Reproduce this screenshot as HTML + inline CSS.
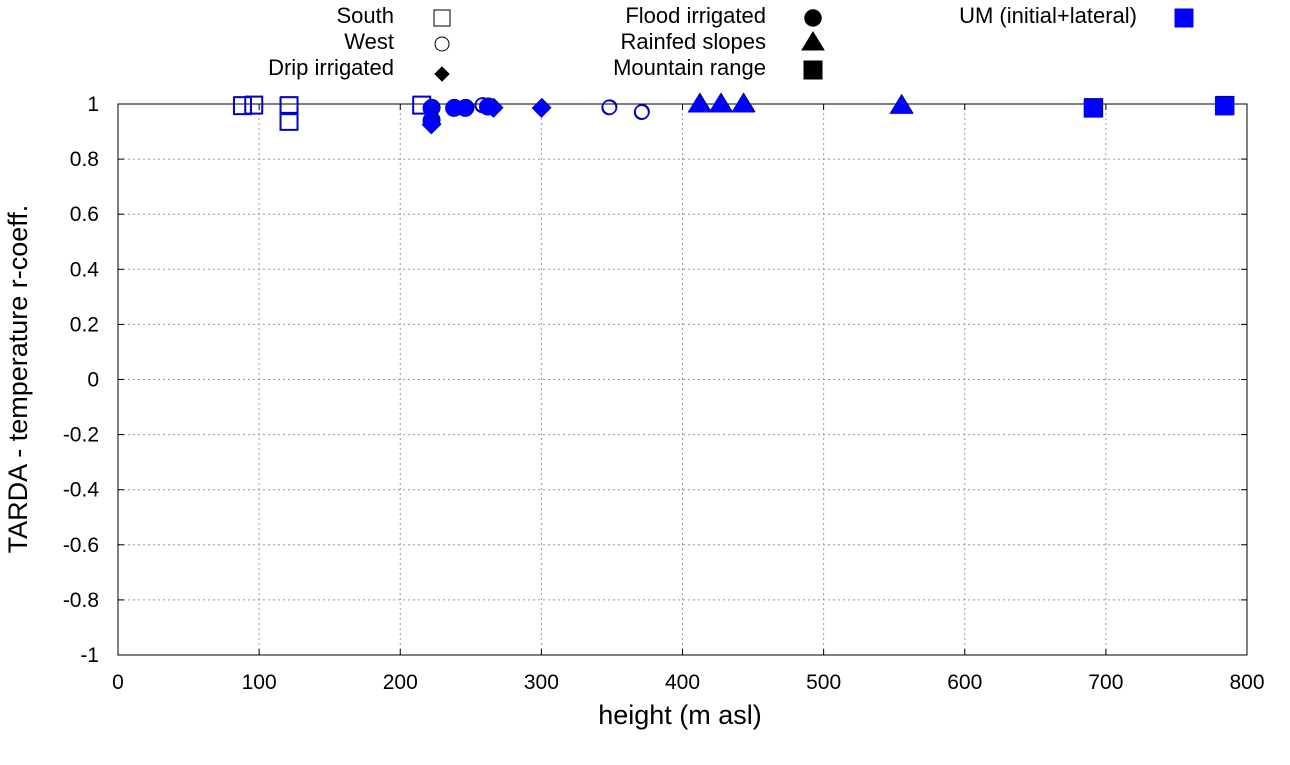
<!DOCTYPE html>
<html><head><meta charset="utf-8"><style>
body{margin:0;background:#fff;font-family:"Liberation Sans",sans-serif;}
svg text{font-family:"Liberation Sans",sans-serif;}
</style></head><body>
<svg id="c" width="1290" height="760" xmlns="http://www.w3.org/2000/svg"></svg>
<script>
const xTicks=[0,100,200,300,400,500,600,700,800];
const yTicks=[-1,-0.8,-0.6,-0.4,-0.2,0,0.2,0.4,0.6,0.8,1];
const yTickLabels=["-1","-0.8","-0.6","-0.4","-0.2","0","0.2","0.4","0.6","0.8","1"];
const southH=[88,96,121,121,215];
const southR=[0.993,0.995,0.993,0.936,0.995];
const westH=[258,348,371];
const westR=[0.995,0.987,0.97];
const dripH=[222,266,300];
const dripR=[0.925,0.985,0.985];
const floodH=[222,222,238,246,262];
const floodR=[0.985,0.94,0.985,0.985,0.99];
const rainH=[412,427,443,555];
const rainR=[1.0,1.0,1.0,0.995];
const mountH=[691,784];
const mountR=[0.985,0.993];

const X0=118,X1=1247,Y0=655,Y1=104;
const sx=v=>X0+(v-0)/(800-0)*(X1-X0);
const sy=v=>Y0-(v+1)/2*(Y0-Y1);
const svg=document.getElementById('c');
const NS='http://www.w3.org/2000/svg';
function mk(t,a,p){const e=document.createElementNS(NS,t);for(const k in a)e.setAttribute(k,a[k]);(p||svg).appendChild(e);return e;}

const grid=mk('g',{});


xTicks.forEach((t,i)=>{
  const x=sx(t);
  if(i>0&&i<xTicks.length-1){mk('line',{x1:x,x2:x,y1:Y0,y2:Y1,stroke:'#999','stroke-dasharray':'2,3','stroke-width':1},grid);}
  mk('line',{x1:x,x2:x,y1:Y0,y2:Y0-6,stroke:'#000'},grid);
  mk('line',{x1:x,x2:x,y1:Y1,y2:Y1+6,stroke:'#000'},grid);
  const tx=mk('text',{x:x,y:689,'text-anchor':'middle','font-size':21},grid);tx.textContent=t;
  
  
});
yTicks.forEach((t,i)=>{
  const y=sy(t);
  if(i>0&&i<yTicks.length-1)mk('line',{x1:X0,x2:X1,y1:y,y2:y,stroke:'#999','stroke-dasharray':'2,3','stroke-width':1},grid);
  mk('line',{x1:X0,x2:X0+6,y1:y,y2:y,stroke:'#000'},grid);
  mk('line',{x1:X1,x2:X1-6,y1:y,y2:y,stroke:'#000'},grid);
  const tx=mk('text',{x:99,y:y+7,'text-anchor':'end','font-size':21},grid);tx.textContent=yTickLabels[i];
  
  
});
const fr=mk('rect',{x:X0,y:Y1,width:X1-X0,height:Y0-Y1,fill:'none',stroke:'#000','stroke-width':1});



const xt=mk('text',{x:680,y:724,'text-anchor':'middle','font-size':27});xt.textContent='height (m asl)';


const yt=mk('text',{x:0,y:0,'text-anchor':'middle','font-size':27,transform:'translate(27,379) rotate(-90)'});yt.textContent='TARDA - temperature r-coeff.';



function shape(type,x,y,col,fill,p){
  if(type==='sq'){const s=fill?18:17;return mk('rect',{x:x-s/2,y:y-s/2,width:s,height:s,fill:fill?col:'none',stroke:col,'stroke-width':fill?1:1.5},p);}
  if(type==='ci')return mk('circle',{cx:x,cy:y,r:fill?8:7,fill:fill?col:'none',stroke:col,'stroke-width':1.5},p);
  if(type==='di')return mk('polygon',{points:`${x},${y-9} ${x+9},${y} ${x},${y+9} ${x-9},${y}`,fill:col,stroke:col},p);
  if(type==='tr')return mk('polygon',{points:`${x},${y-10} ${x+11},${y+8} ${x-11},${y+8}`,fill:col,stroke:col},p);
}
function series(name,H,R,type,fill){
  const g=mk('g',{});
  
  
  H.forEach((h,i)=>{
    const x=sx(h),y=sy(R[i]);
    const b=shape(type,x+0.5,y-0.5,'#000',fill,g);
    
    
    const e=shape(type,x,y,'#0000ff',fill,g);
    
    
  });
}
series('south',southH,southR,'sq',false);
series('west',westH,westR,'ci',false);
series('flood-irrigated',floodH,floodR,'ci',true);
series('drip-irrigated',dripH,dripR,'di',true);
series('rainfed-slopes',rainH,rainR,'tr',true);
series('mountain-range',mountH,mountR,'sq',true);

const leg=[
 ['South',394,16,442,'sq',false,'#000'],
 ['West',394,42,442,'ci',false,'#000'],
 ['Drip irrigated',394,68,442,'di',true,'#000'],
 ['Flood irrigated',766,16,813,'ci',true,'#000'],
 ['Rainfed slopes',766,42,813,'tr',true,'#000'],
 ['Mountain range',766,68,813,'sq',true,'#000'],
 ['UM (initial+lateral)',1137,16,1184,'sq',true,'#0000ff'],
];
leg.forEach(l=>{
  const g=mk('g',{});
  
  
  const t=mk('text',{x:l[1],y:l[2]+7,'text-anchor':'end','font-size':22},g);t.textContent=l[0];
  const s=shape(l[4],l[3],l[2]+(l[4]==='tr'?0:2),l[6],l[5],g);
  if(l[4]==='di'){s.setAttribute('points',`${l[3]},${l[2]-1} ${l[3]+7},${l[2]+6} ${l[3]},${l[2]+13} ${l[3]-7},${l[2]+6}`);}
  if(l[4]==='sq'&&!l[5]){s.setAttribute('width',16);s.setAttribute('height',16);s.setAttribute('x',l[3]-8);s.setAttribute('y',l[2]-6);s.setAttribute('stroke-width',1);}
  if(l[4]==='ci'&&!l[5]){s.setAttribute('r',7);s.setAttribute('stroke-width',1);}
});
</script>
</body></html>
